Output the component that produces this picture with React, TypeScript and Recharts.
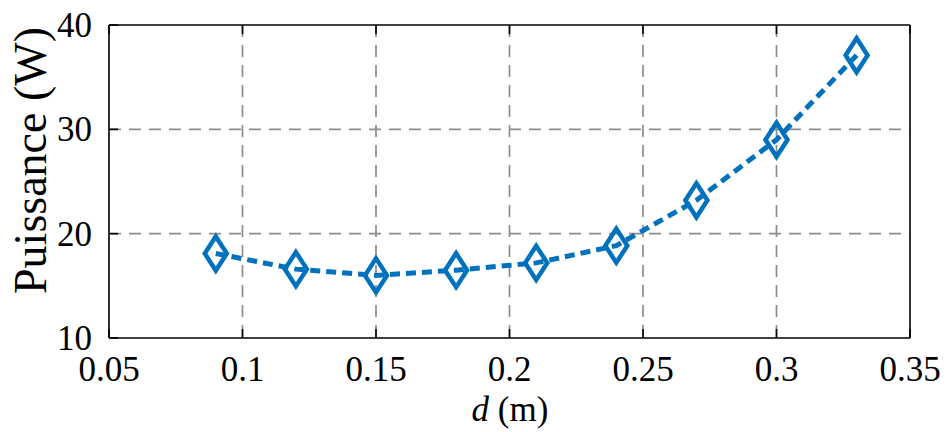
import React from 'react';
import { LineChart, Line, XAxis, YAxis, CartesianGrid } from 'recharts';

const distances = [0.09, 0.12, 0.15, 0.18, 0.21, 0.24, 0.27, 0.3, 0.33];
const puissance = [18.1, 16.6, 16.0, 16.5, 17.2, 18.85, 23.2, 29.0, 37.1];
const xTicks = [0.05, 0.1, 0.15, 0.2, 0.25, 0.3, 0.35];
const xTickLabels = ['0.05', '0.1', '0.15', '0.2', '0.25', '0.3', '0.35'];
const yTicks = [10, 20, 30, 40];
const xGrid = [0.1, 0.15, 0.2, 0.25, 0.3];
const yGrid = [20, 30];

const data = distances.map((d, i) => ({ d, p: puissance[i] }));

const FONT = '"Liberation Serif", "Times New Roman", serif';
const BLUE = '#0072BD';
const TICK_LEN = 9;

const BottomTick = (props: any) => {
  const { x, y, payload, index } = props;
  return (
    <g>
      <line x1={x} x2={x} y1={y} y2={y - TICK_LEN} stroke="#000" strokeWidth={1.6} />
      <text x={x} y={y + 43} textAnchor="middle" fontFamily={FONT} fontSize={35} fill="#000">
        {xTickLabels[index] ?? String(payload.value)}
      </text>
    </g>
  );
};

const TopTick = (props: any) => {
  const { x, y } = props;
  return <line x1={x} x2={x} y1={y} y2={y + TICK_LEN} stroke="#000" strokeWidth={1.6} />;
};

const LeftTick = (props: any) => {
  const { x, y, payload } = props;
  return (
    <g>
      <line x1={x} x2={x + TICK_LEN} y1={y} y2={y} stroke="#000" strokeWidth={1.6} />
      <text x={x - 17} y={y + 12} textAnchor="end" fontFamily={FONT} fontSize={35} fill="#000">
        {payload.value}
      </text>
    </g>
  );
};

const RightTick = (props: any) => {
  const { x, y } = props;
  return <line x1={x} x2={x - TICK_LEN} y1={y} y2={y} stroke="#000" strokeWidth={1.6} />;
};

const Diamond = (props: any) => {
  const { cx, cy, index } = props;
  if (cx == null || cy == null) return <g key={`d-${index}`} />;
  const hw = 11;
  const hh = 17;
  return (
    <path
      key={`d-${index}`}
      d={`M${cx},${cy - hh} L${cx + hw},${cy} L${cx},${cy + hh} L${cx - hw},${cy} Z`}
      fill="none"
      stroke={BLUE}
      strokeWidth={4.5}
      strokeLinejoin="miter"
    />
  );
};

export default function App() {
  return (
    <div style={{ position: 'absolute', left: 0, top: 0, width: 947, height: 432, background: '#fff' }}>
      <LineChart
        width={947}
        height={432}
        data={data}
        margin={{ top: 24, right: 36, bottom: 0, left: 0 }}
      >
        <CartesianGrid
          xAxisId="bottom"
          yAxisId="left"
          stroke="#8c8c8c"
          strokeDasharray="12 8"
          strokeWidth={1.7}
          horizontalValues={yGrid}
          verticalValues={xGrid}
        />
        <XAxis
          xAxisId="bottom"
          dataKey="d"
          type="number"
          domain={[0.05, 0.35]}
          ticks={xTicks}
          height={94}
          axisLine={{ stroke: '#000', strokeWidth: 1.6 }}
          tickLine={false}
          tickSize={0}
          tickMargin={0}
          tick={<BottomTick />}
          interval={0}
          allowDataOverflow
        />
        <XAxis
          xAxisId="top"
          orientation="top"
          dataKey="d"
          type="number"
          domain={[0.05, 0.35]}
          ticks={xTicks}
          height={1}
          axisLine={{ stroke: '#000', strokeWidth: 1.6 }}
          tickLine={false}
          tickSize={0}
          tickMargin={0}
          tick={<TopTick />}
          interval={0}
        />
        <YAxis
          yAxisId="left"
          type="number"
          domain={[10, 40]}
          ticks={yTicks}
          width={109}
          axisLine={{ stroke: '#000', strokeWidth: 1.6 }}
          tickLine={false}
          tickSize={0}
          tickMargin={0}
          tick={<LeftTick />}
          interval={0}
          label={{
            value: 'Puissance (W)',
            angle: -90,
            position: 'insideLeft',
            offset: 0,
            style: { fontFamily: FONT, fontSize: 46, fill: '#000', textAnchor: 'middle' },
            dx: 30,
            dy: -21,
          }}
        />
        <YAxis
          yAxisId="right"
          orientation="right"
          type="number"
          domain={[10, 40]}
          ticks={yTicks}
          width={1}
          axisLine={{ stroke: '#000', strokeWidth: 1.6 }}
          tickLine={false}
          tickSize={0}
          tickMargin={0}
          tick={<RightTick />}
          interval={0}
        />
        <Line
          xAxisId="bottom"
          yAxisId="left"
          type="linear"
          dataKey="p"
          stroke={BLUE}
          strokeWidth={5}
          strokeDasharray="10 6"
          dot={<Diamond />}
          activeDot={false}
          isAnimationActive={false}
        />
        <text x={510} y={421} textAnchor="middle" fontFamily={FONT} fontSize={35} fill="#000">
          <tspan fontStyle="italic">d</tspan>
          <tspan> (m)</tspan>
        </text>
      </LineChart>
    </div>
  );
}
